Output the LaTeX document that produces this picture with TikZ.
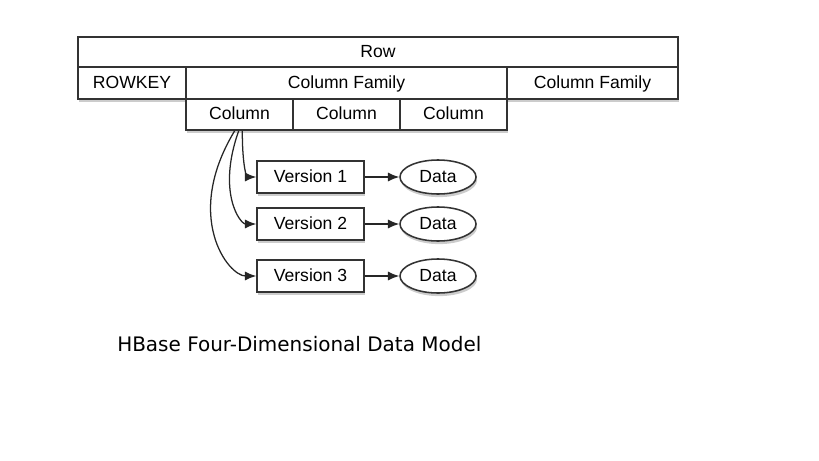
\documentclass[tikz,border=0pt]{standalone}
\usepackage{fontspec}
\setmainfont{Liberation Sans}
\newfontfamily\capfont{DejaVu Sans}
\usetikzlibrary{shapes.geometric,shadows,arrows.meta}
\tikzset{
    cell/.style={draw=black!80,line width=1.1pt,fill=white,inner sep=0pt,
        minimum height=0.8cm,font=\fontsize{12.5}{14}\selectfont,
        text height=0.72em,text depth=0pt,
        drop shadow={shadow xshift=0.8pt,shadow yshift=-2.2pt,fill=black!40}},
    data/.style={ellipse,draw=black!80,line width=1.1pt,fill=white,inner sep=0pt,
        minimum width=1.9cm,minimum height=0.85cm,font=\fontsize{12.5}{14}\selectfont,
        text height=0.72em,text depth=0pt,
        drop shadow={shadow xshift=0.8pt,shadow yshift=-2.2pt,fill=black!40}},
    link/.style={-{Latex[length=8pt,width=6.5pt]},line width=0.9pt,draw=black!85}
}
\begin{document}
\begin{tikzpicture}[x=0.025cm,y=-0.025cm]
    \useasboundingbox (0,0) rectangle (819,460);
    % table
    \node [cell,minimum width=15cm,minimum height=0.75cm] (row) at (378,52) {Row};
    \node [cell,minimum width=2.7cm] (rowkey) at (132,83) {ROWKEY};
    \node [cell,minimum width=8.025cm] (famA) at (346.5,83) {Column Family};
    \node [cell,minimum width=4.275cm] (famB) at (592.5,83) {Column Family};
    \foreach \x/\n in {239.5/colA,346.5/colB,453.5/colC}
        \node [cell,minimum width=2.675cm,minimum height=0.775cm] (\n) at (\x,114.5) {Column};
    % versions
    \foreach \i/\y in {1/177,2/224,3/276} {
        \node [cell,minimum width=2.675cm] (ver\i) at (310.5,\y) {Version \i};
        \node [data] (data\i) at (438,\y) {Data};
        \draw [link] (ver\i) -- (data\i);
    }
    \draw [link] ([xshift=0.07cm]colA.south) .. controls +(0,42) and +(-8,0) .. (ver1.west);
    \draw [link] ([xshift=-0.02cm]colA.south) .. controls +(-22,62) and +(-16,0) .. (ver2.west);
    \draw [link] ([xshift=-0.12cm]colA.south) .. controls +(-52,86) and +(-28,0) .. (ver3.west);
    % caption
    \node [anchor=west,inner sep=0pt,font=\capfont\fontsize{14.2}{17}\selectfont] (caption) at (117,344) {HBase Four-Dimensional Data Model};
\end{tikzpicture}
\end{document}
